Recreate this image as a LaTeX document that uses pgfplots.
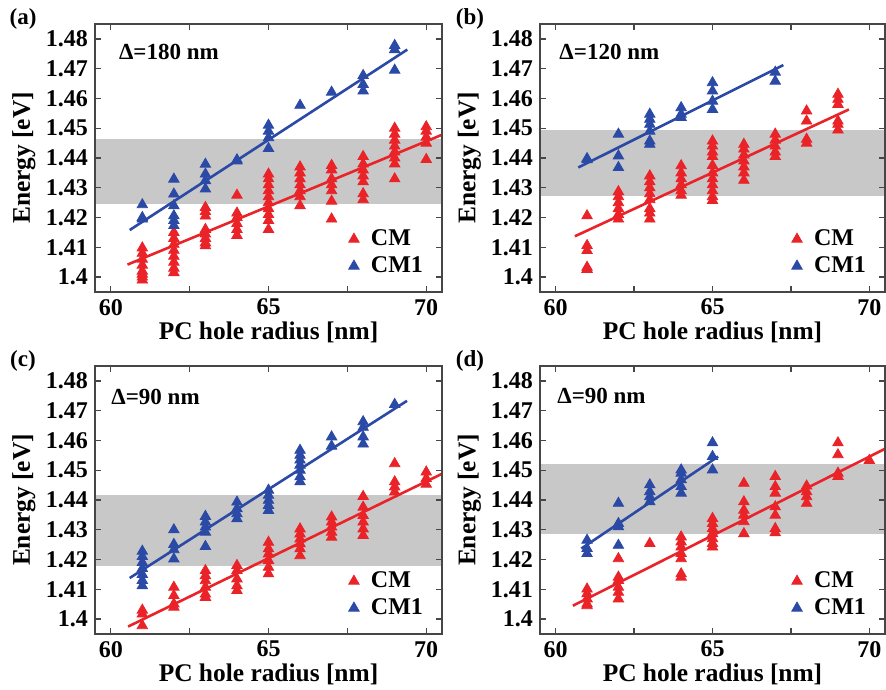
\documentclass[border=0pt]{standalone}
\usepackage{fontspec}
\setmainfont{Liberation Serif}
\usepackage{pgfplots}
\pgfplotsset{compat=1.18}
\definecolor{cmred}{RGB}{234,35,40}
\definecolor{cmblue}{RGB}{42,74,166}
\definecolor{band}{RGB}{200,200,200}
\definecolor{frame}{RGB}{70,70,70}
\newcommand\lf{\fontsize{11.5}{13.5}\selectfont\bfseries}
\newcommand\gf{\fontsize{12}{14}\selectfont\bfseries}
\newcommand\tf{\fontsize{12}{14}\selectfont\bfseries}
\newcommand\af{\fontsize{12.7}{15}\selectfont\bfseries}

\pgfplotsset{
 panel/.style={
  scale only axis, width=173.5pt, height=134pt,
  xmin=59.5, xmax=70.5, ymin=1.395, ymax=1.485,
  xtick={60,65,70}, minor xtick={62.5,67.5},
  ytick={1.40,1.41,1.42,1.43,1.44,1.45,1.46,1.47,1.48},
  yticklabels={1.4,1.41,1.42,1.43,1.44,1.45,1.46,1.47,1.48},
  xticklabels={60,65,70},
  tick align=inside, major tick length=3pt, minor tick length=3pt,
  axis line style={frame, line width=0.9pt},
  every tick/.style={frame, line width=0.7pt},
  tick label style={font=\tf},
  /pgf/number format/assume math mode=true,
  xlabel={PC hole radius [nm]}, ylabel={Energy [eV]},
  every axis x label/.style={at={(axis description cs:0.5,-0.152)}, anchor=center, font=\af},
  every axis y label/.style={at={(axis description cs:-0.205,0.5)}, rotate=90, anchor=center, font=\af},
  legend style={draw=none, fill=none, font=\gf, at={(rel axis cs:0.975,0.03)}, anchor=south east},
  legend image code/.code={\path[draw=none,fill=none] (-3pt,-2pt) rectangle (6.5pt,2pt); \draw[##1] plot coordinates {(0pt,0pt)};},
  legend cell align=left,
  axis on top,
 },
 cmm/.style={only marks, mark=triangle*, mark size=3pt, color=cmred},
 cm1m/.style={only marks, mark=triangle*, mark size=3pt, color=cmblue},
 fitr/.style={no marks, cmred, line width=1.3pt, forget plot},
 fitb/.style={no marks, cmblue, line width=1.3pt, forget plot},
 bandst/.style={draw=none, fill=band, forget plot},
}

\pgfplotstableread{
x y
61 1.4098
61 1.408
61 1.406
61 1.404
61 1.402
61 1.401
61 1.400
61 1.399
62 1.415
62 1.413
62 1.411
62 1.409
62 1.407
62 1.405
62 1.403
62 1.4015
63 1.4234
63 1.422
63 1.4205
63 1.416
63 1.4145
63 1.413
63 1.4115
63 1.4105
64 1.4275
64 1.4215
64 1.420
64 1.418
64 1.416
64 1.414
65 1.4346
65 1.433
65 1.431
65 1.429
65 1.427
65 1.425
65 1.423
65 1.421
65 1.419
65 1.416
66 1.437
66 1.435
66 1.433
66 1.431
66 1.429
66 1.427
66 1.424
67 1.4375
67 1.436
67 1.433
67 1.431
67 1.429
67 1.4255
67 1.4195
68 1.4405
68 1.438
68 1.436
68 1.434
68 1.432
68 1.428
68 1.426
69 1.450
69 1.448
69 1.446
69 1.444
69 1.442
69 1.440
69 1.438
69 1.433
70 1.4505
70 1.449
70 1.447
70 1.445
70 1.4395
}\aCM
\pgfplotstableread{
x y
61 1.4243
61 1.4200
61 1.4195
62 1.4329
62 1.4279
62 1.424
62 1.4206
62 1.419
62 1.4173
63 1.4379
63 1.4346
63 1.4324
63 1.4296
64 1.4394
64 1.4390
65 1.451
65 1.449
65 1.4468
65 1.4432
66 1.4577
67 1.4621
68 1.4677
68 1.4647
68 1.4625
69 1.4778
69 1.4764
69 1.4695
}\aCMone
\pgfplotstableread{
x y
61 1.4206
61 1.4106
61 1.4089
61 1.4033
61 1.4026
62 1.4287
62 1.427
62 1.425
62 1.423
62 1.421
62 1.4195
63 1.434
63 1.432
63 1.430
63 1.428
63 1.426
63 1.423
63 1.4215
63 1.4195
64 1.4374
64 1.435
64 1.433
64 1.431
64 1.429
64 1.4275
65 1.4457
65 1.444
65 1.442
65 1.4405
65 1.4375
65 1.435
65 1.433
65 1.431
65 1.429
65 1.427
65 1.4257
66 1.4446
66 1.443
66 1.441
66 1.439
66 1.437
66 1.435
66 1.4325
67 1.448
67 1.446
67 1.444
67 1.442
67 1.4405
68 1.4558
68 1.4524
68 1.4463
68 1.445
69 1.4614
69 1.4597
69 1.458
69 1.4524
69 1.4513
69 1.4494
}\bCM
\pgfplotstableread{
x y
61 1.4398
61 1.4394
62 1.448
62 1.4407
62 1.4368
63 1.4547
63 1.453
63 1.4513
63 1.449
63 1.4457
63 1.4446
64 1.4569
64 1.4547
64 1.4536
65 1.4653
65 1.4625
65 1.4591
65 1.4563
67 1.4688
67 1.4658
}\bCMone
\pgfplotstableread{
x y
61 1.403
61 1.4017
61 1.3978
62 1.4107
62 1.4079
62 1.4051
62 1.404
63 1.4163
63 1.4146
63 1.4129
63 1.4107
63 1.4084
63 1.4073
64 1.418
64 1.4163
64 1.4135
64 1.4112
64 1.4096
65 1.4258
65 1.4236
65 1.4219
65 1.4197
65 1.4174
65 1.4152
66 1.4303
66 1.4286
66 1.4269
66 1.4253
66 1.4236
66 1.4213
67 1.4343
67 1.4326
67 1.4309
67 1.4292
67 1.4275
68 1.4412
68 1.4376
68 1.4348
68 1.4326
68 1.4303
68 1.4281
69 1.4522
69 1.4461
69 1.4444
69 1.4427
70 1.4494
70 1.4472
70 1.4453
}\cCM
\pgfplotstableread{
x y
61 1.4228
61 1.421
61 1.419
61 1.417
61 1.415
61 1.413
61 1.4112
62 1.430
62 1.4251
62 1.4233
62 1.4202
63 1.4345
63 1.4326
63 1.4309
63 1.4292
63 1.4244
64 1.4393
64 1.4371
64 1.4354
64 1.4337
65 1.4433
65 1.4416
65 1.4399
65 1.4382
65 1.4365
66 1.4567
66 1.455
66 1.4534
66 1.4517
66 1.45
66 1.4478
66 1.4461
67 1.4612
67 1.4581
68 1.4663
68 1.4644
68 1.4612
68 1.4588
69 1.4721
}\cCMone
\pgfplotstableread{
x y
61 1.4101
61 1.4085
61 1.4068
61 1.4051
61 1.4045
62 1.4203
62 1.4141
62 1.413
62 1.4107
62 1.409
62 1.4068
63 1.4254
64 1.4276
64 1.4259
64 1.4242
64 1.422
64 1.4203
64 1.4152
64 1.4141
65 1.4338
65 1.4321
65 1.4304
65 1.4287
65 1.427
65 1.4254
65 1.4242
66 1.4456
66 1.4394
66 1.4366
66 1.4349
66 1.4327
66 1.4287
67 1.4479
67 1.4445
67 1.4423
67 1.4377
67 1.4349
67 1.4304
67 1.429
68 1.4447
68 1.4428
68 1.4411
68 1.4389
69 1.4592
69 1.4552
69 1.449
69 1.4479
70 1.4533
}\dCM
\pgfplotstableread{
x y
61 1.4265
61 1.4237
61 1.422
62 1.4389
62 1.4321
62 1.431
62 1.4248
63 1.4451
63 1.4428
63 1.4411
63 1.4394
64 1.4501
64 1.449
64 1.4468
64 1.4445
64 1.4423
65 1.4592
65 1.4546
65 1.4501
}\dCMone

\begin{document}
\begin{tikzpicture}
\useasboundingbox (0,0) rectangle (443pt,-344.5pt);

% (a)
\begin{axis}[panel, at={(47.5pt,-12pt)}, anchor=north west]
\addplot[bandst] coordinates {(59.5,1.4244) (70.5,1.4244) (70.5,1.4464) (59.5,1.4464)} -- cycle;
\addplot[cmm] table[x=x,y=y] {\aCM};
\addplot[cm1m] table[x=x,y=y] {\aCMone};
\addplot[fitr] coordinates {(60.53,1.4042) (70.5,1.4478)};
\addplot[fitb] coordinates {(60.6,1.4158) (69.4,1.4764)};
\legend{CM,CM1}
\node[anchor=west, font=\lf] at (rel axis cs:0.049,0.896) {Δ=180 nm};
\end{axis}

% (b)
\begin{axis}[panel, width=172.5pt, at={(270pt,-12pt)}, anchor=north west]
\addplot[bandst] coordinates {(59.5,1.4271) (70.5,1.4271) (70.5,1.4493) (59.5,1.4493)} -- cycle;
\addplot[cmm] table[x=x,y=y] {\bCM};
\addplot[cm1m] table[x=x,y=y] {\bCMone};
\addplot[fitr] coordinates {(60.61,1.4137) (69.35,1.4563)};
\addplot[fitb] coordinates {(60.72,1.4368) (67.26,1.4712)};
\legend{CM,CM1}
\node[anchor=west, font=\lf] at (rel axis cs:0.036,0.896) {Δ=120 nm};
\end{axis}

% (c)
\begin{axis}[panel, at={(47.5pt,-183pt)}, anchor=north west]
\addplot[bandst] coordinates {(59.5,1.4180) (70.5,1.4180) (70.5,1.4416) (59.5,1.4416)} -- cycle;
\addplot[cmm] table[x=x,y=y] {\cCM};
\addplot[cm1m] table[x=x,y=y] {\cCMone};
\addplot[fitr] coordinates {(60.55,1.3975) (70.5,1.4488)};
\addplot[fitb] coordinates {(60.6,1.4138) (69.39,1.4733)};
\legend{CM,CM1}
\node[anchor=west, font=\lf] at (rel axis cs:0.027,0.884) {Δ=90 nm};
\end{axis}

% (d)
\begin{axis}[panel, width=172.5pt, at={(270pt,-183pt)}, anchor=north west]
\addplot[bandst] coordinates {(59.5,1.4287) (70.5,1.4287) (70.5,1.4522) (59.5,1.4522)} -- cycle;
\addplot[cmm] table[x=x,y=y] {\dCM};
\addplot[cm1m] table[x=x,y=y] {\dCMone};
\addplot[fitr] coordinates {(60.55,1.4045) (70.5,1.4572)};
\addplot[fitb] coordinates {(60.82,1.4237) (65.18,1.4546)};
\legend{CM,CM1}
\node[anchor=west, font=\lf] at (rel axis cs:0.03,0.888) {Δ=90 nm};
\end{axis}

\node[font=\lf] at (11.5pt,-9.5pt) {(a)};
\node[font=\lf] at (235pt,-9.5pt) {(b)};
\node[font=\lf] at (11.5pt,-180.5pt) {(c)};
\node[font=\lf] at (235pt,-180.5pt) {(d)};
\end{tikzpicture}
\end{document}
